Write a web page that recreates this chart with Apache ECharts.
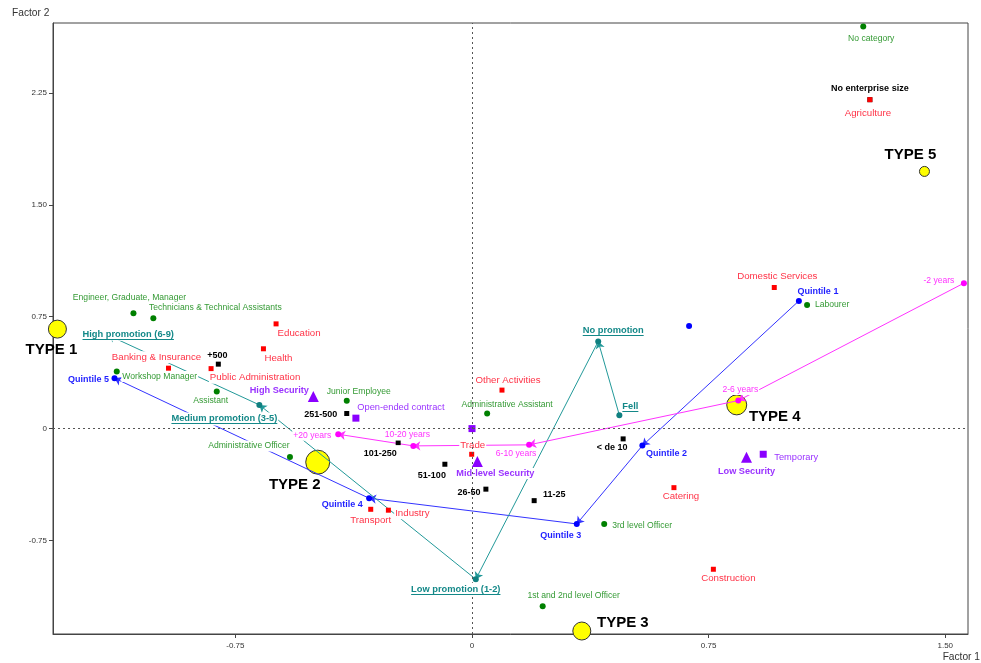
<!DOCTYPE html>
<html><head><meta charset="utf-8">
<script src="https://cdn.jsdelivr.net/npm/echarts@6/dist/echarts.min.js"></script>
<style>html,body{margin:0;padding:0;background:#fff}#c{width:981px;height:663px}</style>
</head><body><div id="c"></div>
<script>
// ---- data (Factor 1, Factor 2, label) ----
const xTicks = [-0.75, 0, 0.75, 1.5];
const yTicks = [-0.75, 0, 0.75, 1.5, 2.25];
const xRange = [-1.328, 1.572];
const yRange = [-1.377, 2.719];

const occupations = [
  [-1.073, 0.774, 'Engineer, Graduate, Manager'],
  [-1.010, 0.740, 'Technicians & Technical Assistants'],
  [-1.126, 0.382, 'Workshop Manager'],
  [-0.809, 0.248, 'Assistant'],
  [-0.577, -0.190, 'Administrative Officer'],
  [-0.397, 0.186, 'Junior Employee'],
  [0.048, 0.101, 'Administrative Assistant'],
  [0.419, -0.639, '3rd level Officer'],
  [0.224, -1.191, '1st and 2nd level Officer'],
  [1.062, 0.828, 'Labourer'],
  [1.240, 2.696, 'No category']
];
const sectors = [
  [-0.621, 0.702, 'Education'],
  [-0.661, 0.535, 'Health'],
  [-0.962, 0.405, 'Banking & Insurance'],
  [-0.827, 0.402, 'Public Administration'],
  [0.095, 0.258, 'Other Activities'],
  [-0.001, -0.172, 'Trade'],
  [-0.321, -0.541, 'Transport'],
  [-0.265, -0.547, 'Industry'],
  [0.640, -0.396, 'Catering'],
  [0.765, -0.943, 'Construction'],
  [0.958, 0.946, 'Domestic Services'],
  [1.261, 2.205, 'Agriculture']
];
const sizes = [
  [1.261, 2.205, 'No enterprise size'],
  [-0.804, 0.432, '+500'],
  [-0.397, 0.101, '251-500'],
  [-0.234, -0.094, '101-250'],
  [-0.086, -0.239, '51-100'],
  [0.044, -0.406, '26-50'],
  [0.197, -0.483, '11-25'],
  [0.479, -0.069, '< de 10']
];
const security = [
  [-0.503, 0.215, 'High Security'],
  [0.017, -0.221, 'Mid-level Security'],
  [0.870, -0.192, 'Low Security']
];
const contracts = [
  [-0.368, 0.070, 'Open-ended contract'],
  [0.000, 0.000, ''],
  [0.923, -0.172, 'Temporary']
];
const quintiles = [
  [1.036, 0.856, 'Quintile 1'],
  [0.540, -0.114, 'Quintile 2'],
  [0.332, -0.639, 'Quintile 3'],
  [-0.326, -0.467, 'Quintile 4'],
  [-1.133, 0.338, 'Quintile 5']
];
const quintileExtra = [[0.688, 0.687, '']];
const promotion = [
  [0.467, 0.090, 'Fell'],
  [0.400, 0.584, 'No promotion'],
  [0.012, -1.010, 'Low promotion (1-2)'],
  [-0.674, 0.159, 'Medium promotion (3-5)'],
  [-1.153, 0.626, 'High promotion (6-9)']
];
const seniority = [
  [1.559, 0.975, '-2 years'],
  [0.844, 0.188, '2-6 years'],
  [0.181, -0.109, '6-10 years'],
  [-0.186, -0.116, '10-20 years'],
  [-0.424, -0.038, '+20 years']
];
const types = [
  [-1.314, 0.667, 'TYPE 1'],
  [-0.489, -0.225, 'TYPE 2'],
  [0.348, -1.357, 'TYPE 3'],
  [0.839, 0.159, 'TYPE 4'],
  [1.434, 1.724, 'TYPE 5']
];

// ---- presentation ----
const typeDiameter = [18, 24, 18, 20, 10];
const labelOffset = {
  'Engineer, Graduate, Manager': [-4, -16],
  'Technicians & Technical Assistants': [62, -11],
  'Workshop Manager': [43, 5],
  'Assistant': [-6, 9],
  'Administrative Officer': [-41, -11],
  'Junior Employee': [12, -9],
  'Administrative Assistant': [20, -9],
  '3rd level Officer': [38, 2],
  '1st and 2nd level Officer': [31, -11],
  'Labourer': [25, 0],
  'No category': [8, 12],
  'Education': [23, 9],
  'Health': [15, 10],
  'Banking & Insurance': [-12, -11],
  'Public Administration': [44, 9],
  'Other Activities': [6, -10],
  'Trade': [1, -9],
  'Transport': [0, 11],
  'Industry': [24, 3],
  'Catering': [7, 9],
  'Construction': [15, 9],
  'Domestic Services': [3, -11],
  'Agriculture': [-2, 14],
  'No enterprise size': [0, -11],
  '+500': [-1, -9],
  '251-500': [-26, 1],
  '101-250': [-18, 11],
  '51-100': [-13, 11],
  '26-50': [-17, 3],
  '11-25': [20, -6],
  '< de 10': [-11, 9],
  'High Security': [-34, -6],
  'Mid-level Security': [18, 12],
  'Low Security': [0, 14],
  'Open-ended contract': [45, -11],
  'Temporary': [33, 3],
  'Quintile 1': [19, -9],
  'Quintile 2': [24, 8],
  'Quintile 3': [-16, 12],
  'Quintile 4': [-27, 6],
  'Quintile 5': [-26, 1],
  'Fell': [11, -9],
  'No promotion': [15, -11],
  'Low promotion (1-2)': [-20, 10],
  'Medium promotion (3-5)': [-35, 14],
  'High promotion (6-9)': [20, -1],
  '-2 years': [-25, -3],
  '2-6 years': [2, -11],
  '6-10 years': [-13, 9],
  '10-20 years': [-6, -11],
  '+20 years': [-26, 1],
  'TYPE 1': [-6, 21],
  'TYPE 2': [-23, 23],
  'TYPE 3': [41, -8],
  'TYPE 4': [38, 12],
  'TYPE 5': [-14, -17]
};
const FONT = '"Liberation Sans", Arial, Helvetica, sans-serif';

function pointSeries(rows, o) {
  return {
    type: 'scatter', z: o.z || 3, silent: true, animation: false,
    symbol: o.symbol || 'circle', symbolSize: o.size,
    itemStyle: Object.assign({ color: o.color, opacity: 1 }, o.itemStyle || {}),
    data: rows.map((r, i) => {
      const item = { value: [r[0], r[1]], name: r[2] };
      if (o.sizes) item.symbolSize = o.sizes[i];
      if (!r[2] || o.noLabel) item.label = { show: false };
      else item.label = { offset: labelOffset[r[2]] || [0, 0] };
      return item;
    }),
    label: {
      show: true, position: 'inside', formatter: '{b}',
      color: o.textColor, fontSize: o.fontSize, fontWeight: o.bold ? 'bold' : 'normal',
      fontFamily: FONT, align: 'center', verticalAlign: 'middle',
      backgroundColor: o.labelBg === false ? 'transparent' : '#fff', padding: [1, 1]
    },
    emphasis: { disabled: true }
  };
}

function pathSeries(rows, color) {
  const segs = [];
  for (let i = 0; i + 1 < rows.length; i++) {
    segs.push({ coords: [[rows[i][0], rows[i][1]], [rows[i + 1][0], rows[i + 1][1]]] });
  }
  return {
    type: 'lines', coordinateSystem: 'cartesian2d', z: 2, silent: true, animation: false,
    symbol: ['none', 'arrow'], symbolSize: 7,
    lineStyle: { color: color, width: 1, opacity: 1 },
    data: segs
  };
}

const measureCtx = document.createElement('canvas').getContext('2d');
const promoColor = '#138888';
const promoFont = 'bold 9.3px ' + FONT;

const promoLabels = {
  type: 'custom', z: 5, silent: true, animation: false,
  data: promotion.map(r => [r[0], r[1]]),
  renderItem: function (params, api) {
    const p = api.coord([api.value(0), api.value(1)]);
    const name = promotion[params.dataIndex][2];
    const off = labelOffset[name] || [0, 0];
    measureCtx.font = promoFont;
    const w = measureCtx.measureText(name).width;
    const cx = p[0] + off[0], cy = p[1] + off[1];
    const uy = Math.round(cy + 4.5) + 0.5;
    return {
      type: 'group', children: [
        { type: 'rect', shape: { x: cx - w / 2 - 1, y: cy - 6.5, width: w + 2, height: 13 }, style: { fill: '#fff' } },
        { type: 'text', x: cx, y: cy, style: { text: name, fontSize: 9.3, fontWeight: 'bold', fontFamily: FONT, fill: promoColor, align: 'center', verticalAlign: 'middle' } },
        { type: 'line', shape: { x1: cx - w / 2, y1: uy, x2: cx + w / 2, y2: uy }, style: { stroke: promoColor, lineWidth: 1 } }
      ]
    };
  }
};

const fmt = v => (Math.abs(v) < 1e-9 ? '0' : v.toFixed(2));

const option = {
  backgroundColor: '#fff',
  animation: false,
  textStyle: { fontFamily: FONT },
  grid: { left: 53, right: 13, top: 23, bottom: 29, show: true, borderColor: '#444', borderWidth: 1, backgroundColor: 'transparent' },
  xAxis: {
    type: 'value', min: xRange[0], max: xRange[1],
    axisLine: { show: true, onZero: false, lineStyle: { color: '#444' } },
    axisTick: { show: true, customValues: xTicks, length: 4, lineStyle: { color: '#444' } },
    axisLabel: { customValues: xTicks, formatter: fmt, fontSize: 8, color: '#333', margin: 8, fontFamily: FONT },
    splitLine: { show: false }
  },
  yAxis: {
    type: 'value', min: yRange[0], max: yRange[1],
    axisLine: { show: true, onZero: false, lineStyle: { color: '#444' } },
    axisTick: { show: true, customValues: yTicks, length: 4, lineStyle: { color: '#444' } },
    axisLabel: { customValues: yTicks, formatter: fmt, fontSize: 8, color: '#333', margin: 6, fontFamily: FONT },
    splitLine: { show: false }
  },
  graphic: [
    { type: 'text', left: 12, top: 8, style: { text: 'Factor 2', fontSize: 10.2, fontFamily: FONT, fill: '#333' } },
    { type: 'text', right: 1, top: 652, style: { text: 'Factor 1', fontSize: 10.2, fontFamily: FONT, fill: '#333' } }
  ],
  series: [
    {
      type: 'line', z: 0, silent: true, data: [],
      markLine: {
        silent: true, symbol: 'none', animation: false, label: { show: false },
        lineStyle: { color: '#555', type: [2, 3], width: 1 },
        data: [{ xAxis: 0 }, { yAxis: 0 }]
      }
    },
    pointSeries(types, { z: 1, size: 18, sizes: typeDiameter, color: '#ffff00', itemStyle: { borderColor: '#333', borderWidth: 1 }, textColor: '#000', fontSize: 15, bold: true, labelBg: false }),
    pathSeries(quintiles, '#3333ff'),
    pathSeries(promotion, '#229999'),
    pathSeries(seniority, '#ff33ff'),
    pointSeries(occupations, { size: 6, color: '#008000', textColor: '#349a34', fontSize: 8.6 }),
    pointSeries(sizes, { symbol: 'rect', size: 5, color: '#000', textColor: '#000', fontSize: 9, bold: true }),
    pointSeries(sectors, { symbol: 'rect', size: 5, color: '#ff0000', textColor: '#ff3347', fontSize: 9.7 }),
    pointSeries(security, { symbol: 'triangle', size: 11, color: '#8a00ff', textColor: '#9a33ff', fontSize: 9.2, bold: true }),
    pointSeries(contracts, { symbol: 'rect', size: 7, color: '#8a00ff', textColor: '#9a33ff', fontSize: 9.3 }),
    pointSeries(quintiles, { size: 6, color: '#0000ff', textColor: '#1f1fff', fontSize: 9, bold: true }),
    pointSeries(quintileExtra, { size: 6, color: '#0000ff', textColor: '#1f1fff', fontSize: 9 }),
    pointSeries(promotion, { size: 6, color: '#108080', noLabel: true }),
    pointSeries(seniority, { size: 6, color: '#ff00ff', textColor: '#ff33ff', fontSize: 8.6 }),
    promoLabels
  ]
};

const chart = echarts.init(document.getElementById('c'), null, { renderer: 'canvas' });
chart.setOption(option);
</script>
</body></html>
